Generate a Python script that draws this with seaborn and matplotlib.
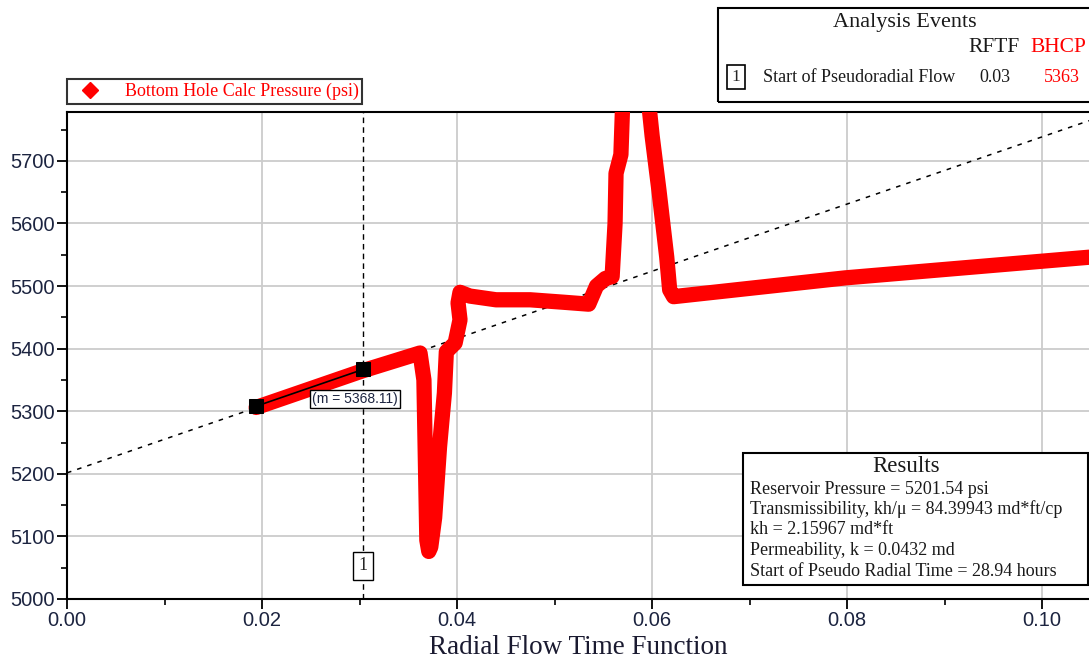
import matplotlib
matplotlib.use("Agg")
import seaborn as sns
import matplotlib.pyplot as plt
from matplotlib.lines import Line2D
from matplotlib.patches import Rectangle
from matplotlib.ticker import MultipleLocator

# Bottom hole calc pressure trace
rftf = [0.0194, 0.0304, 0.0362, 0.0366, 0.0369, 0.0371, 0.0373, 0.0377, 0.0382,
        0.0387, 0.0389, 0.0398, 0.0403, 0.0401, 0.0403, 0.0413, 0.0440, 0.0475,
        0.0510, 0.0535, 0.0543, 0.0552, 0.0559, 0.0562, 0.0563, 0.0568, 0.0570,
        0.0596, 0.0600, 0.0607, 0.0615, 0.0618, 0.0622, 0.0798, 0.1048]
bhcp = [5306, 5365, 5393, 5350, 5094, 5076, 5083, 5130, 5243,
        5329, 5395, 5409, 5446, 5473, 5490, 5484, 5478, 5478,
        5474, 5471, 5500, 5512, 5515, 5600, 5680, 5710, 5800,
        5800, 5740, 5653, 5546, 5494, 5483, 5513, 5546]

# Straight-line fit selection points
fit_x = [0.0194, 0.0304]
fit_y = [5308, 5367]

reservoir_p = 5201.54
slope_m = 5368.11
event_rftf = 0.0304
event_bhcp = 5363

results_lines = ["Reservoir Pressure = 5201.54 psi",
                 "Transmissibility, kh/\u03bc = 84.39943 md*ft/cp",
                 "kh = 2.15967 md*ft",
                 "Permeability, k = 0.0432 md",
                 "Start of Pseudo Radial Time = 28.94 hours"]

sns.set_style("whitegrid")
plt.rcParams['font.family'] = ['Liberation Sans', 'DejaVu Sans']
serif = ['Liberation Serif', 'DejaVu Serif']

W, H = 1089, 664
fig = plt.figure(figsize=(W / 100, H / 100), dpi=100)
ax = fig.add_axes([67 / W, 1 - 599 / H, 1 - 67 / W, (599 - 112) / H])

def fx(px):
    return px / W

def fy(py):
    return 1 - py / H

# fitted line through reservoir pressure
ax.axline((0, reservoir_p), slope=slope_m, color='black', lw=1.1,
          ls=(0, (3, 4)), zorder=2)
ax.axvline(event_rftf, color='black', lw=1.0, ls=(0, (4, 3)), zorder=2)

sns.lineplot(x=rftf, y=bhcp, sort=False, estimator=None, color='red',
             lw=11, ax=ax, zorder=3, solid_joinstyle='round')
sns.lineplot(x=fit_x, y=fit_y, sort=False, estimator=None, color='black',
             lw=1.2, marker='s', markersize=10, markeredgecolor='black',
             ax=ax, zorder=4)

ax.set_xlim(0, 0.1048)
ax.set_ylim(5000, 5778)
ax.xaxis.set_minor_locator(MultipleLocator(0.01))
ax.yaxis.set_major_locator(MultipleLocator(100))
ax.yaxis.set_minor_locator(MultipleLocator(50))
ax.set_xticks([0, 0.02, 0.04, 0.06, 0.08, 0.10])
ax.set_xticklabels(['0.00', '0.02', '0.04', '0.06', '0.08', '0.10'])
ax.grid(True, which='major', color='#cccccc', lw=1.3)
ax.grid(False, which='minor')
ax.tick_params(which='major', direction='out', length=7, width=1.3,
               color='black', labelsize=14.5, labelcolor='#1c2440',
               left=True, bottom=True, pad=2)
ax.tick_params(which='minor', direction='out', length=4, width=1.2,
               color='black', left=True, bottom=True)
for side in ['left', 'bottom', 'top']:
    ax.spines[side].set_color('black')
    ax.spines[side].set_linewidth(1.5)
ax.spines['right'].set_visible(False)
ax.set_ylabel('')
ax.set_xlabel('Radial Flow Time Function', fontsize=19.5, family=serif,
              labelpad=3, color='#1a1a30')

# slope label and event marker
ax.text(0.02954, 5319, '(m = 5368.11)', fontsize=10, ha='center', va='center',
        color='#1c2440', zorder=5,
        bbox=dict(boxstyle='square,pad=0.15', fc='white', ec='black', lw=1))
ax.text(event_rftf, 5053, '1', fontsize=13, ha='center', va='center',
        family=serif, zorder=5,
        bbox=dict(boxstyle='square,pad=0.3', fc='white', ec='black', lw=1))

# legend
handle = Line2D([], [], marker='D', color='red', ls='none', markersize=8)
leg = fig.legend([handle], ['Bottom Hole Calc Pressure (psi)'],
                 loc='lower left', bbox_to_anchor=(fx(67), fy(104)),
                 frameon=True, fancybox=False, edgecolor='black',
                 prop={'family': serif, 'size': 13}, handlelength=2.2,
                 handletextpad=0.8, borderpad=0.2, borderaxespad=0)
leg.get_frame().set_linewidth(1.5)
leg.get_texts()[0].set_color('red')

# analysis events box
fig.patches.append(Rectangle((fx(718), fy(102)), fx(1100) - fx(718),
                             fy(8) - fy(102), transform=fig.transFigure,
                             fill=False, ec='black', lw=1.5))
fig.text(fx(905), fy(23), 'Analysis Events', ha='center', va='center',
         family=serif, fontsize=16, color='#1a1a1a')
fig.text(fx(994), fy(48), 'RFTF', ha='center', va='center', family=serif,
         fontsize=15.5, color='#1a1a1a')
fig.text(fx(1058), fy(48), 'BHCP', ha='center', va='center', family=serif,
         fontsize=15.5, color='red')
fig.text(fx(736), fy(77), '1', ha='center', va='center', family=serif,
         fontsize=12.5,
         bbox=dict(boxstyle='square,pad=0.25', fc='white', ec='black', lw=1.2))
fig.text(fx(763), fy(78), 'Start of Pseudoradial Flow', ha='left',
         va='center', family=serif, fontsize=13, color='#1a1a1a')
fig.text(fx(995), fy(78), f'{event_rftf:.2f}', ha='center', va='center',
         family=serif, fontsize=13, color='#1a1a1a')
fig.text(fx(1062), fy(78), str(event_bhcp), ha='center', va='center',
         family=serif, fontsize=13, color='red')

# results box
fig.patches.append(Rectangle((fx(743), fy(585)), fx(1088) - fx(743),
                             fy(453) - fy(585), transform=fig.transFigure,
                             fc='white', ec='black', lw=1.5, zorder=10))
fig.text(fx(906), fy(467), 'Results', ha='center', va='center',
         family=serif, fontsize=16.5, color='#1a1a1a', zorder=11)
for i, line in enumerate(results_lines):
    fig.text(fx(750), fy(489 + i * 20.5), line, ha='left', va='center',
             family=serif, fontsize=13, color='#1a1a1a', zorder=11)

fig.savefig('out.png', dpi=100)
